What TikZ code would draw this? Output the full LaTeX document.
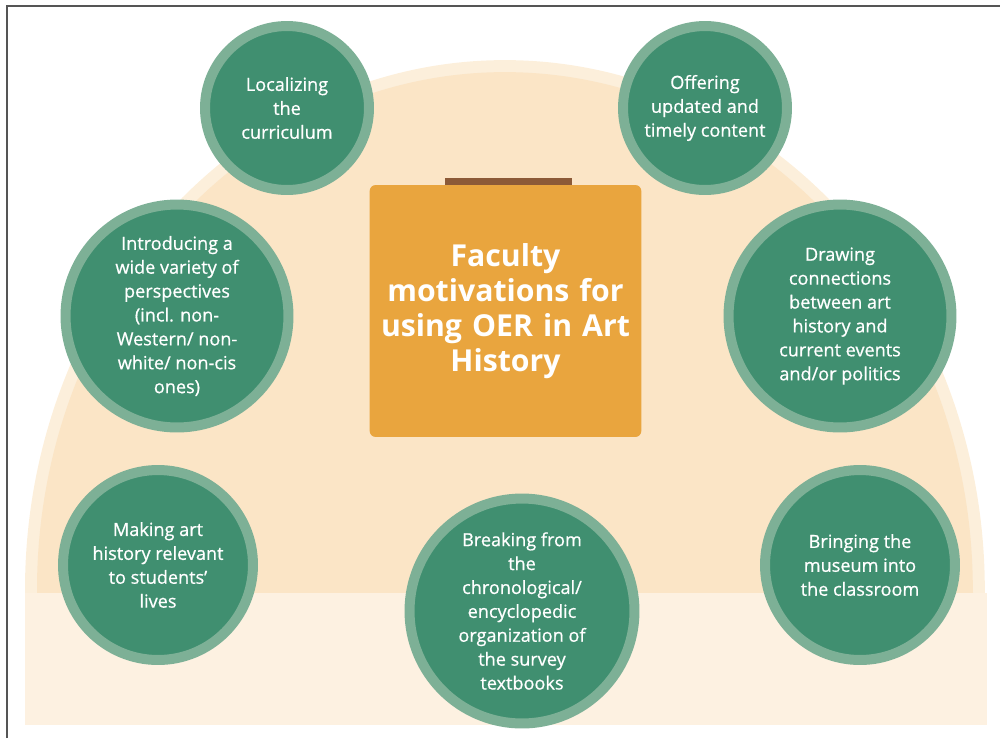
\documentclass[tikz,border=0pt]{standalone}
\usepackage{fontspec}
\setmainfont{Open Sans}
\newfontfamily\motivefont[FakeBold=0.7,Ligatures=TeX]{Open Sans}
\usepackage{xcolor}
\usetikzlibrary{positioning}
\definecolor{domeout}{HTML}{FCEFDB}
\definecolor{domein}{HTML}{FBE5C6}
\definecolor{bandlight}{HTML}{FDF1E1}
\definecolor{boxorange}{HTML}{E9A53E}
\definecolor{barbrown}{HTML}{8C5A37}
\definecolor{darkgreen}{HTML}{408F70}
\definecolor{ringgreen}{HTML}{7DB096}
\definecolor{framegray}{HTML}{555555}

\begin{document}
\begin{tikzpicture}[x=0.02cm, y=-0.02cm,
  motive/.style={circle, draw=ringgreen, fill=darkgreen, line width=0.2cm,
    text=white, align=center, inner sep=0pt, minimum size=#1,
    font=\motivefont\fontsize{10.3}{13.6}\selectfont}]
\useasboundingbox (0,0) rectangle (1000,738);
% frame
\draw[framegray, line width=0.03cm] (7,738) -- (7,6) -- (1000,6);
% background dome and band
\fill[domeout] (25,593) -- (25,590) arc[start angle=180, end angle=0, x radius=9.6cm, y radius=10.6cm] -- (985,593) -- cycle;
\fill[domein] (37,593) -- (37,590) arc[start angle=180, end angle=0, x radius=9.36cm, y radius=10.36cm] -- (973,593) -- cycle;
\fill[bandlight] (25,593) rectangle (987,725);
% centre box
\fill[barbrown] (445,178) rectangle (572,186);
\node[fill=boxorange, rounded corners=0.12cm, minimum width=5.3cm, minimum height=5.04cm,
  text width=5.2cm, align=center, text=white, font=\bfseries\fontsize{17.2}{19.8}\selectfont]
  (title) at (505.5,311) {Faculty\\ motivations for\\ using OER in Art\\ History};
% motivations
\node[motive=3.28cm] (local) at (287,108) {Localizing\\ the\\ curriculum};
\node[motive=3.28cm] (offer) at (705,108) {Offering\\ updated and\\ timely content};
\node[motive=4.46cm] (intro) at (177,316) {Introducing a\\ wide variety of\\ perspectives\\ (incl. non-\\ Western/ non-\\ white/ non-cis\\ ones)};
\node[motive=4.46cm] (conn) at (840,316) {Drawing\\ connections\\ between art\\ history and\\ current events\\ and/or politics};
\node[motive=3.8cm] (making) at (158,565) {Making art\\ history relevant\\ to students’\\ lives};
\node[motive=4.5cm] (breaking) at (522,611) {Breaking from\\ the\\ chronological/\\ encyclopedic\\ organization of\\ the survey\\ textbooks};
\node[motive=3.8cm] (bringing) at (860,565) {Bringing the\\ museum into\\ the classroom};
\end{tikzpicture}
\end{document}
